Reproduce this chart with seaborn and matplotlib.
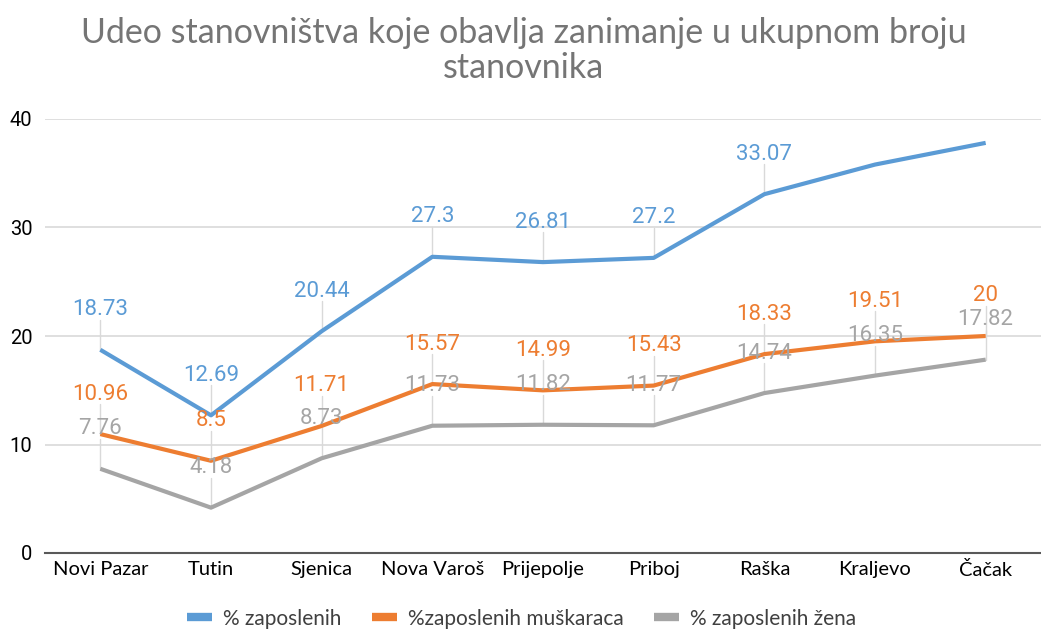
import matplotlib
matplotlib.use("Agg")
import matplotlib.pyplot as plt
from matplotlib.lines import Line2D
import seaborn as sns
import pandas as pd

categories = ["Novi Pazar", "Tutin", "Sjenica", "Nova Varoš", "Prijepolje",
              "Priboj", "Raška", "Kraljevo", "Čačak"]
total = [18.73, 12.69, 20.44, 27.3, 26.81, 27.2, 33.07, 35.8, 37.8]
men = [10.96, 8.5, 11.71, 15.57, 14.99, 15.43, 18.33, 19.51, 20]
women = [7.76, 4.18, 8.73, 11.73, 11.82, 11.77, 14.74, 16.35, 17.82]
total_labeled = [True, True, True, True, True, True, True, False, False]
series_names = ["% zaposlenih", "%zaposlenih muškaraca", "% zaposlenih žena"]
title = "Udeo stanovništva koje obavlja zanimanje u ukupnom broju\nstanovnika"

colors = ["#5B9BD5", "#ED7D31", "#A5A5A5"]

sns.set_theme(style="white")
plt.rcParams['font.family'] = ['Lato', 'DejaVu Sans']

rows = []
for name, vals in zip(series_names, [total, men, women]):
    for i, v in enumerate(vals):
        rows.append({"pos": i, "value": v, "series": name})
df = pd.DataFrame(rows)

fig = plt.figure(figsize=(10.41, 6.30), dpi=100)
ax = fig.add_axes([45 / 1041, (630 - 553) / 630, 996 / 1041, (553 - 119) / 630])

sns.lineplot(data=df, x="pos", y="value", hue="series", palette=colors,
             hue_order=series_names, linewidth=3, ax=ax, legend=False,
             sort=False, zorder=3, solid_capstyle="butt")

ax.set_xlim(-0.5, len(categories) - 0.5)
ax.set_ylim(0, 40)
ax.set_yticks([0, 10, 20, 30, 40])
ax.set_xticks(range(len(categories)))
ax.set_xticklabels(categories, fontsize=14.5, color="#000000")
ax.tick_params(axis="y", labelsize=14.5, colors="#000000", length=0, pad=9)
ax.tick_params(axis="x", length=0, pad=6)
for lab in ax.get_yticklabels():
    lab.set_fontfamily(["Roboto", "DejaVu Sans"])
ax.set_xlabel("")
ax.set_ylabel("")
ax.grid(axis="y", color="#D9D9D9", linewidth=1.2)
ax.set_axisbelow(True)
for s in ["top", "right", "left"]:
    ax.spines[s].set_visible(False)
ax.spines["bottom"].set_color("#595959")
ax.spines["bottom"].set_linewidth(1.5)
ax.spines["bottom"].set_zorder(4)

# data labels with leader lines
px_per_unit = (553 - 119) / 40.0
label_off = 40 / px_per_unit
leader_top = 30 / px_per_unit
for vals, col, flags in [(total, colors[0], total_labeled),
                         (men, colors[1], [True] * len(men)),
                         (women, colors[2], [True] * len(women))]:
    for i, v in enumerate(vals):
        if not flags[i]:
            continue
        ax.plot([i, i], [v, v + leader_top], color="#D9D9D9", lw=1, zorder=2,
                clip_on=False)
        ax.text(i, v + label_off, f"{v:g}", color=col, ha="center", va="center",
                fontsize=16, family=["Roboto", "DejaVu Sans"], zorder=5,
                clip_on=False)

fig.text(0.503, 0.920, title, ha="center", va="center", fontsize=24.5,
         color="#757575", linespacing=1.12)

handles = [Line2D([0], [0], color=c, lw=6, solid_capstyle="butt") for c in colors]
fig.legend(handles, series_names, loc="center", bbox_to_anchor=(0.501, 0.018),
           ncol=3, frameon=False, fontsize=15, handlelength=1.2,
           columnspacing=1.45, handletextpad=0.55, labelcolor="#404040")

fig.savefig("out.png", dpi=100)
